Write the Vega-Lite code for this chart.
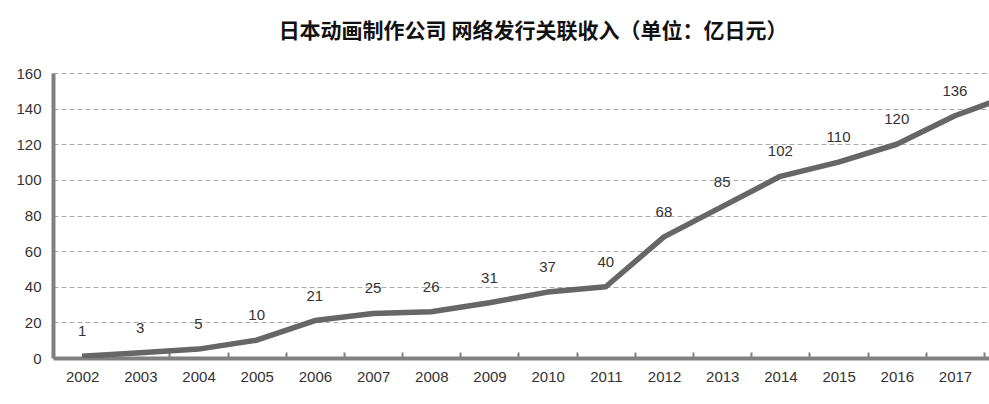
{
  "$schema": "https://vega.github.io/schema/vega-lite/v6.json",
  "width": 936,
  "height": 285,
  "autosize": "none",
  "padding": {"left": 53, "top": 73, "right": 0, "bottom": 46},
  "background": "white",
  "title": {
    "text": "日本动画制作公司 网络发行关联收入（单位：亿日元）",
    "font": "Noto Sans CJK SC",
    "fontSize": 21,
    "fontWeight": "bold",
    "color": "#111",
    "anchor": "middle",
    "dx": 12,
    "offset": 24
  },
  "config": {
    "view": {"stroke": null},
    "axis": {"labelFont": "Liberation Sans", "labelFontSize": 15, "labelColor": "#333"}
  },
  "data": {
    "values": [
      {"year": 2002, "value": 1, "label": "1"},
      {"year": 2003, "value": 3, "label": "3"},
      {"year": 2004, "value": 5, "label": "5"},
      {"year": 2005, "value": 10, "label": "10"},
      {"year": 2006, "value": 21, "label": "21"},
      {"year": 2007, "value": 25, "label": "25"},
      {"year": 2008, "value": 26, "label": "26"},
      {"year": 2009, "value": 31, "label": "31"},
      {"year": 2010, "value": 37, "label": "37"},
      {"year": 2011, "value": 40, "label": "40"},
      {"year": 2012, "value": 68, "label": "68"},
      {"year": 2013, "value": 85, "label": "85"},
      {"year": 2014, "value": 102, "label": "102"},
      {"year": 2015, "value": 110, "label": "110"},
      {"year": 2016, "value": 120, "label": "120"},
      {"year": 2017, "value": 136, "label": "136"},
      {"year": 2018, "value": 148, "label": null}
    ]
  },
  "encoding": {
    "x": {
      "field": "year",
      "type": "quantitative",
      "scale": {"domain": [2001.5, 2017.586], "nice": false, "zero": false},
      "axis": {
        "title": null,
        "values": [2002.5, 2003.5, 2004.5, 2005.5, 2006.5, 2007.5, 2008.5, 2009.5, 2010.5, 2011.5, 2012.5, 2013.5, 2014.5, 2015.5, 2016.5, 2017.5],
        "labelExpr": "format(datum.value - 0.5, 'd')",
        "labelOffset": -29,
        "labelPadding": 17,
        "grid": false,
        "domainColor": "#808080",
        "domainWidth": 4,
        "tickColor": "#808080",
        "tickWidth": 2,
        "tickSize": -6,
        "labelFlush": false,
        "labelOverlap": false,
        "labelBound": false
      }
    },
    "y": {
      "field": "value",
      "type": "quantitative",
      "scale": {"domain": [0, 160], "nice": false},
      "axis": {
        "title": null,
        "values": [0, 20, 40, 60, 80, 100, 120, 140, 160],
        "ticks": false,
        "labelPadding": 12,
        "domainColor": "#808080",
        "domainWidth": 4,
        "grid": true,
        "gridColor": "#aaa",
        "gridDash": [5, 3],
        "gridWidth": 1
      }
    }
  },
  "layer": [
    {
      "mark": {"type": "line", "color": "#666", "strokeWidth": 5.5, "clip": true, "strokeJoin": "round"}
    },
    {
      "transform": [{"filter": "datum.label != null"}],
      "mark": {"type": "text", "font": "Liberation Sans", "fontSize": 15, "color": "#333", "dy": -25, "baseline": "middle"},
      "encoding": {"text": {"field": "label"}}
    }
  ]
}
